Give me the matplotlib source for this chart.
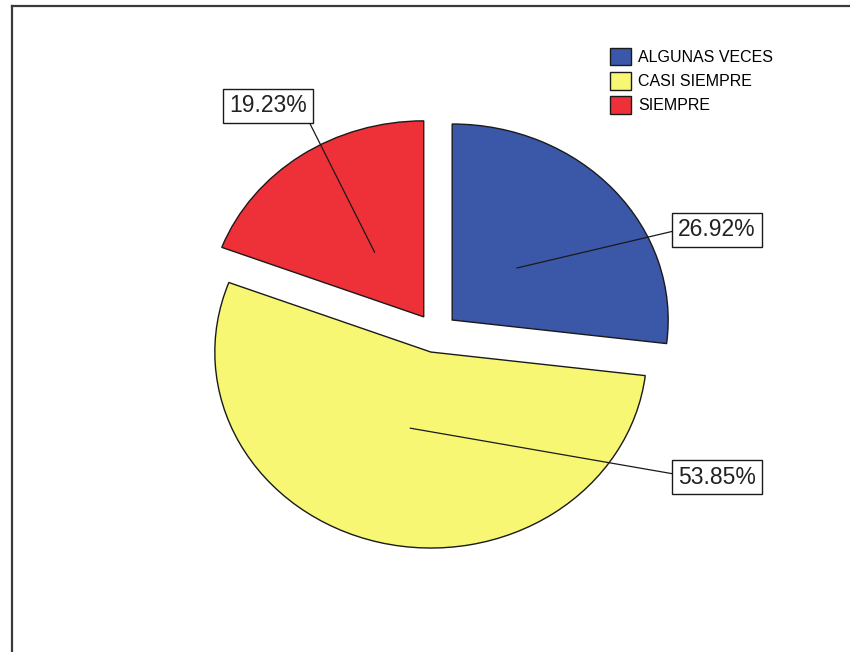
import numpy as np
import matplotlib.pyplot as plt
from matplotlib.lines import Line2D

categories = ['ALGUNAS VECES', 'CASI SIEMPRE', 'SIEMPRE']
percentages = [26.92, 53.85, 19.23]
colors = ['#3b57a8', '#f7f774', '#ee3039']

# label boxes: centre in pixels (from top-left) and where the leader leaves the box
label_boxes = [(717, 230), (717, 477), (268, 106)]
leader_relpos = [(0, 0.5), (0, 0.6), (1, 0)]

W, H = 850, 652
cx, cy = 436, 333      # pie centre, pixels
rx, ry = 216, 196      # pie is drawn slightly squashed vertically

plt.rcParams['font.family'] = ['Liberation Sans', 'DejaVu Sans']

fig = plt.figure(figsize=(W / 100, H / 100), dpi=100)
fig.patch.set_facecolor('white')
ax = fig.add_axes([0, 0, 1, 1])

wedges, _ = ax.pie(percentages, colors=colors, startangle=90, counterclock=False,
                   explode=[0.1] * len(percentages),
                   wedgeprops=dict(edgecolor='#1a1a1a', linewidth=1.0))
ax.set_aspect('auto')
ax.set_xlim(-cx / rx, (W - cx) / rx)
ax.set_ylim((cy - H) / ry, cy / ry)
ax.axis('off')

for w, p, (lx, ly), rel in zip(wedges, percentages, label_boxes, leader_relpos):
    mid = np.deg2rad((w.theta1 + w.theta2) / 2)
    px = w.center[0] + 0.4 * np.cos(mid)
    py = w.center[1] + 0.4 * np.sin(mid)
    ax.annotate(f'{p:.2f}%', xy=(px, py), xytext=(lx, H - ly),
                textcoords='figure pixels', ha='center', va='center',
                fontsize=16.5, color='#222222',
                bbox=dict(boxstyle='square,pad=0.25', fc='white', ec='#1a1a1a', lw=1.0),
                arrowprops=dict(arrowstyle='-', color='#1a1a1a', lw=0.9,
                                shrinkA=0, shrinkB=0, relpos=rel))

ax.legend(wedges, categories, loc='upper left',
          bbox_to_anchor=(610 / W, 1 - 48 / H), bbox_transform=fig.transFigure,
          frameon=False, fontsize=11.5, handlelength=1.3, handleheight=1.3,
          handletextpad=0.45, labelspacing=0.42, borderpad=0, borderaxespad=0)

# outer chart frame (top and left edges visible)
fig.add_artist(Line2D([12 / W, 1], [1 - 6 / H, 1 - 6 / H], transform=fig.transFigure,
                      color='#3a3a3a', lw=1.6))
fig.add_artist(Line2D([12 / W, 12 / W], [0, 1 - 6 / H], transform=fig.transFigure,
                      color='#3a3a3a', lw=1.6))

fig.savefig('out.png', dpi=100)
